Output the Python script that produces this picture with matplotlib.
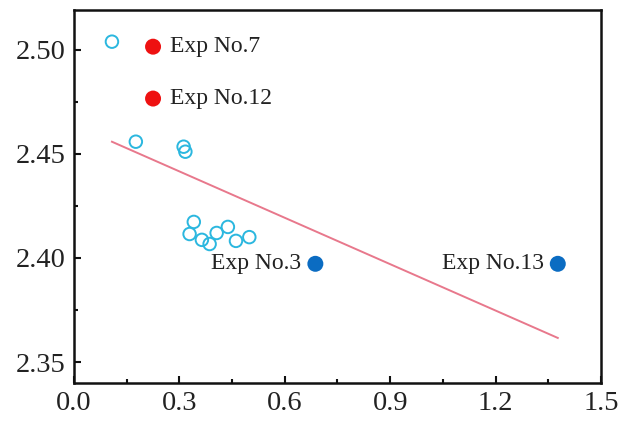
import matplotlib
matplotlib.use("Agg")
import matplotlib.pyplot as plt
from matplotlib.ticker import MultipleLocator
import numpy as np

plt.rcParams['font.family'] = ['Liberation Serif', 'DejaVu Serif']

# open circles: ordinary runs
x_open = [0.108, 0.176, 0.312, 0.317, 0.341, 0.329, 0.364, 0.386, 0.406, 0.438, 0.461, 0.499]
y_open = [2.5038, 2.4558, 2.4534, 2.4510, 2.4173, 2.4115, 2.4087, 2.4067, 2.4120, 2.4149, 2.4082, 2.4100]

# highlighted runs
x_red = [0.225, 0.225]
y_red = [2.5014, 2.4765]
red_labels = ["Exp No.7", "Exp No.12"]

x_blue = [0.687, 1.377]
y_blue = [2.3972, 2.3972]
blue_labels = ["Exp No.3", "Exp No.13"]

# trend line
slope = -0.0742
intercept = 2.4638

fig = plt.figure(figsize=(6.19, 4.21), dpi=100)
ax = fig.add_axes([74 / 619, 1 - 383 / 421, 527 / 619, 373 / 421])

xl = np.array([min(x_open), max(x_blue)])
ax.plot(xl, slope * xl + intercept, color='#E8788C', lw=1.4, zorder=1)

ax.scatter(x_open, y_open, s=9 ** 2, facecolors='none', edgecolors='#2BB7DF',
           linewidths=1.4, zorder=3)
ax.scatter(x_red, y_red, s=11.5 ** 2, color='#EE1111', edgecolors='none', zorder=3)
ax.scatter(x_blue, y_blue, s=11.5 ** 2, color='#0B6CC2', edgecolors='none', zorder=3)

for x, y, t in zip(x_red, y_red, red_labels):
    ax.annotate(t, (x, y), xytext=(12.5, 0), textcoords='offset points',
                ha='left', va='center', fontsize=17, color='#222222')
for x, y, t in zip(x_blue, y_blue, blue_labels):
    ax.annotate(t, (x, y), xytext=(-10, 0), textcoords='offset points',
                ha='right', va='center', fontsize=17, color='#222222')

ax.set_xlim(0, 1.5)
ax.set_ylim(2.34, 2.519)
ax.xaxis.set_major_locator(MultipleLocator(0.3))
ax.xaxis.set_minor_locator(MultipleLocator(0.15))
ax.yaxis.set_major_locator(MultipleLocator(0.05))
ax.yaxis.set_minor_locator(MultipleLocator(0.025))
ax.xaxis.set_major_formatter(plt.FormatStrFormatter('%.1f'))
ax.yaxis.set_major_formatter(plt.FormatStrFormatter('%.2f'))

ax.tick_params(which='major', direction='in', length=5, width=1.5, labelsize=20.5,
               color='#111111', labelcolor='#222222', pad=6)
ax.tick_params(which='minor', direction='in', length=3, width=1.5, color='#111111')
ax.tick_params(top=False, right=False, which='both')
for s in ax.spines.values():
    s.set_linewidth(1.8)
    s.set_color('#111111')

fig.savefig('out.png', dpi=100)
